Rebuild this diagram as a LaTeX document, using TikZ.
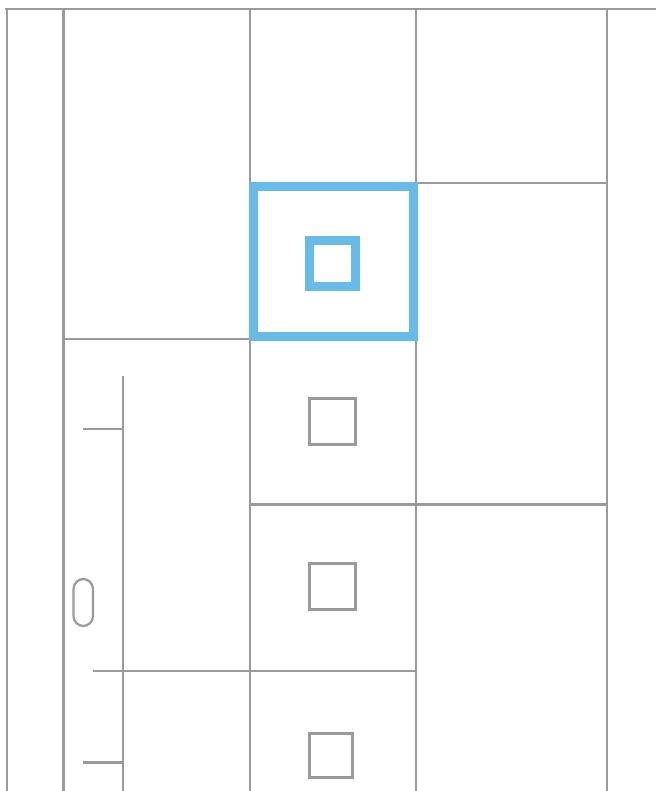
\documentclass[tikz,border=0pt]{standalone}
\definecolor{gris}{HTML}{9A9A9E}
\definecolor{azul}{HTML}{68BAE7}
\begin{document}
\begin{tikzpicture}[x=1pt, y=-1pt,
    linea/.style={draw=gris, line width=2.6pt},
    caja/.style={rectangle, draw=gris, line width=2.8pt, minimum size=46pt, inner sep=0pt},
    activa/.style={rectangle, draw=azul, line width=9pt, inner sep=0pt}]
        \useasboundingbox (0,0) rectangle (656,791);
        % marco y columnas
        \coordinate (t0) at (5,9);
        \coordinate (t1) at (656,9);
        \draw[linea] (t0) -- (t1);
        \foreach \x in {7,63.5,250,416,607}
            \draw[linea] (\x,9) -- (\x,791);
        % divisiones de filas
        \draw[linea] (416,183) -- (607,183);
        \draw[linea] (63.5,339) -- (250,339);
        \draw[linea] (250,504.5) -- (607,504.5);
        \draw[linea] (93,671) -- (416,671);
        % barra lateral
        \draw[linea] (123,376) -- (123,791);
        \draw[linea] (83,429) -- (123,429);
        \draw[linea] (83,762.5) -- (123,762.5);
        \draw[draw=gris, line width=2.2pt, rounded corners=10pt] (73.5,579) rectangle (93,626);
        % celdas
        \node[caja] (c1) at (332.5,421.5) {};
        \node[caja] (c2) at (332.5,586.5) {};
        \node[caja, minimum width=43pt, minimum height=44pt] (c3) at (331,755.5) {};
        % celda seleccionada
        \node[activa, minimum width=160pt, minimum height=150pt] (sel) at (333.5,261.5) {};
        \node[activa, minimum size=46pt] (selin) at (332.5,263.5) {};
    \end{tikzpicture}
\end{document}
